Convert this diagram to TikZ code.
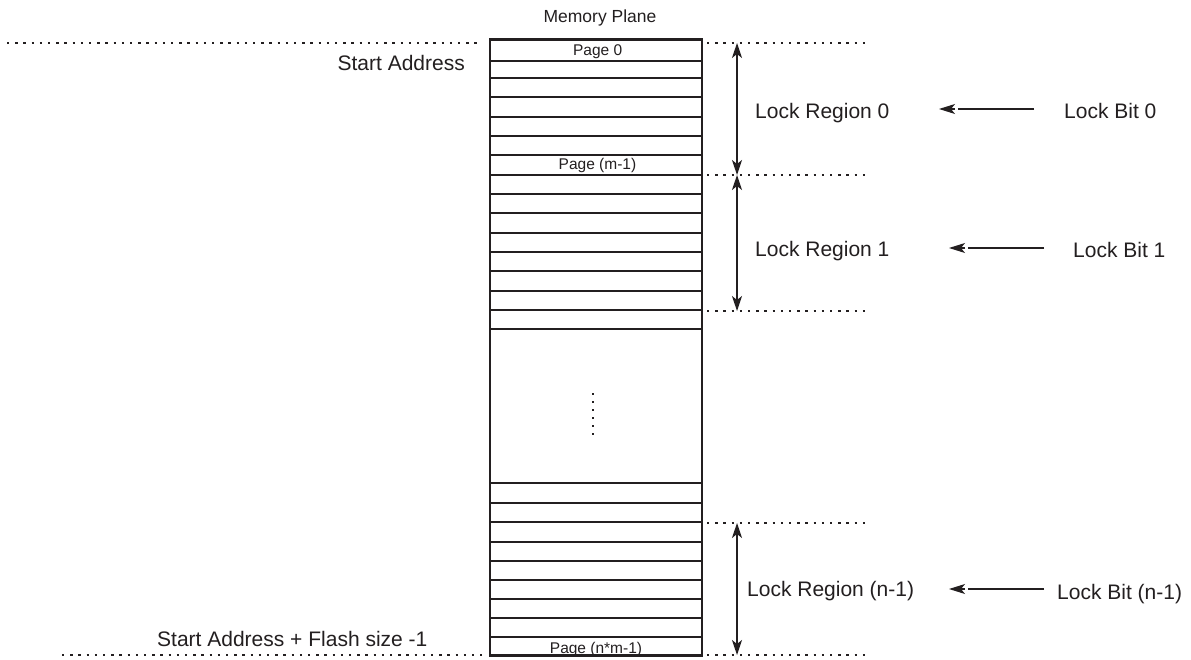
\documentclass[tikz,border=0pt]{standalone}
\usepackage{fontspec}
\setmainfont{Liberation Sans}
\usetikzlibrary{arrows.meta}
\definecolor{ink}{RGB}{35,31,32}
\begin{document}
\begin{tikzpicture}[x=1pt,y=-1pt,
  lbl/.style={inner sep=0pt,font=\fontsize{21}{25}\selectfont,text=ink},
  pagelbl/.style={inner sep=0pt,font=\fontsize{15.5}{18}\selectfont,text=ink},
  titlelbl/.style={inner sep=0pt,font=\fontsize{17.5}{21}\selectfont,text=ink},
  dotline/.style={draw=ink,line width=2.4pt,dash pattern=on 2.4pt off 5.8pt},
  rowline/.style={draw=ink,line width=2pt},
  regarrow/.style={draw=ink,line width=1.3pt,{Stealth[length=15pt,width=10pt,inset=4pt]}-{Stealth[length=15pt,width=10pt,inset=4pt]}},
  bitline/.style={draw=ink,line width=1.1pt},
  bittip/.style={draw=ink,line width=1.1pt,-{Stealth[length=16pt,width=10pt,inset=4pt]}}]
\useasboundingbox (0,0) rectangle (1191,660);
\fill[white] (0,0) rectangle (1191,660);
% memory plane box
\node[draw=ink,line width=2.2pt,minimum width=212pt,minimum height=616pt,inner sep=0pt] (plane) at (596,347.5) {};
\foreach \y in {61,78,97.3,116.7,136,155.3,174.7,194,213.3,232.6,252,271.3,290.6,310,329.3,483.3,503,522.3,541.7,561,580,599.3,618.3,637.3}
  \draw[rowline] (490,\y) -- (702,\y);
% vertical dots inside
\draw[draw=ink,line width=2.4pt,dash pattern=on 2.4pt off 5.6pt] (593,393) -- (593,436);
% texts
\node[titlelbl,anchor=base] (title) at (600,23) {Memory Plane};
\node[pagelbl,anchor=base] (p0) at (597.7,56) {Page 0};
\node[pagelbl,anchor=base] (pm) at (597.5,170) {Page (m-1)};
\node[pagelbl,anchor=base] (pnm) at (596,653) {Page (n*m-1)};
\node[lbl,anchor=base east] (sa) at (465,70.5) {Start Address};
\node[lbl,anchor=base west] (sae) at (157,646) {Start Address + Flash size -1};
\node[lbl,anchor=base west] (lr0) at (755,119) {Lock Region 0};
\node[lbl,anchor=base west] (lr1) at (755,257) {Lock Region 1};
\node[lbl,anchor=base west] (lrn) at (747,596) {Lock Region (n-1)};
\node[lbl,anchor=base west] (lb0) at (1064,119) {Lock Bit 0};
\node[lbl,anchor=base west] (lb1) at (1073,258) {Lock Bit 1};
\node[lbl,anchor=base west] (lbn) at (1057,599) {Lock Bit (n-1)};
% dotted guide lines
\coordinate (dl0a) at (7,43);   \coordinate (dl0b) at (480,43);
\coordinate (dlba) at (62,655); \coordinate (dlbb) at (482,655);
\coordinate (dr0a) at (707,43);  \coordinate (dr0b) at (870,43);
\coordinate (dr1a) at (707,175); \coordinate (dr1b) at (870,175);
\coordinate (dr2a) at (707,311); \coordinate (dr2b) at (870,311);
\coordinate (dr3a) at (707,523); \coordinate (dr3b) at (870,523);
\coordinate (dr4a) at (707,655); \coordinate (dr4b) at (870,655);
\draw[dotline] (dl0a) -- (dl0b);
\draw[dotline] (dlba) -- (dlbb);
\draw[dotline] (dr0a) -- (dr0b);
\draw[dotline] (dr1a) -- (dr1b);
\draw[dotline] (dr2a) -- (dr2b);
\draw[dotline] (dr3a) -- (dr3b);
\draw[dotline] (dr4a) -- (dr4b);
% region arrows
\coordinate (r0t) at (737,43);  \coordinate (r0b) at (737,175);
\coordinate (r1t) at (737,175); \coordinate (r1b) at (737,311);
\coordinate (r2t) at (737,523); \coordinate (r2b) at (737,655);
\draw[regarrow] (r0t) -- (r0b);
\draw[regarrow] (r1t) -- (r1b);
\draw[regarrow] (r2t) -- (r2b);
% lock bit arrows (line, small gap, detached head)
\coordinate (b0s) at (1034,109); \coordinate (b0g) at (958,109); \coordinate (b0h) at (955,109); \coordinate (b0e) at (939,109);
\coordinate (b1s) at (1044,248); \coordinate (b1g) at (968,248); \coordinate (b1h) at (965,248); \coordinate (b1e) at (949,248);
\coordinate (b2s) at (1044,589); \coordinate (b2g) at (968,589); \coordinate (b2h) at (965,589); \coordinate (b2e) at (949,589);
\draw[bitline] (b0s) -- (b0g);
\draw[bittip] (b0h) -- (b0e);
\draw[bitline] (b1s) -- (b1g);
\draw[bittip] (b1h) -- (b1e);
\draw[bitline] (b2s) -- (b2g);
\draw[bittip] (b2h) -- (b2e);
\end{tikzpicture}
\end{document}
